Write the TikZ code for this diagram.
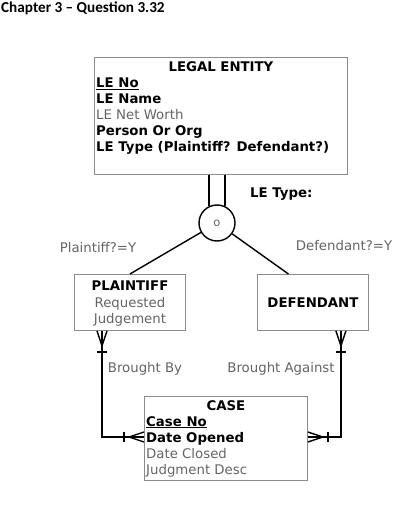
\documentclass[tikz,border=0pt]{standalone}
\usepackage{fontspec}
\setmainfont{DejaVu Sans}
\newfontfamily\titlefont{Carlito}
\usetikzlibrary{positioning}
\definecolor{boxgray}{HTML}{8C8C8C}
\definecolor{textgray}{HTML}{646464}

\begin{document}
\begin{tikzpicture}[x=1pt, y=-1pt,
    font=\fontsize{13.3}{16}\selectfont,
    entity/.style={draw=boxgray, line width=0.9pt, anchor=north west, inner sep=0pt},
    head/.style={font=\fontsize{13.3}{16}\selectfont\bfseries, inner sep=0pt},
    attrs/.style={align=left, inner sep=0pt, anchor=north west},
    lbl/.style={text=textgray, inner sep=0pt},
    rel/.style={line width=1.4pt},
    bar/.style={line width=2pt}
]
\useasboundingbox (0,0) rectangle (403,513);
\node[anchor=base west, inner sep=0pt, font=\titlefont\fontsize{15.2}{17}\selectfont\bfseries] (title) at (1,13) {Chapter 3 – Question 3.32};

% supertype
\node[entity, minimum width=253pt, minimum height=117pt] (le) at (94,57) {};
\node[head, below=4pt of le.north] (le-head) {LEGAL ENTITY};
\node[attrs] (le-attrs) at (96,77.5) {\textbf{\underline{LE No}}\\ \textbf{LE Name}\\ \textcolor{textgray}{LE Net Worth}\\ \textbf{Person Or Org}\\ \textbf{LE Type (Plaintiff? Defendant?)}};

% subtype circle
\node[draw, circle, line width=1.4pt, minimum size=36pt, inner sep=0pt, font=\fontsize{11.5}{11.5}\selectfont, text=textgray] (sub) at (217,223) {o};
\node[head, anchor=west] (sub-lbl) at (250,194) {LE Type:};
\draw[rel] (sub.115 |- le.south) -- (sub.115);
\draw[rel] (sub.65 |- le.south) -- (sub.65);

% subtypes
\node[entity, minimum width=111pt, minimum height=56pt] (pl) at (74,274) {};
\node[head, below=7pt of pl.north] (pl-head) {PLAINTIFF};
\node[lbl, align=center, below=6pt of pl-head] (pl-attrs) {Requested\\Judgement};
\node[entity, minimum width=111pt, minimum height=56pt] (df) at (257,274) {};
\node[head] (df-head) at (df.center) {DEFENDANT};
\node[lbl] (pl-cond) at (98,248) {Plaintiff?=Y};
\node[lbl] (df-cond) at (344,246) {Defendant?=Y};
\draw[rel] (sub) -- (pl.north);
\draw[rel] (sub) -- ([xshift=-24.5pt]df.north);

% case
\node[entity, minimum width=163pt, minimum height=84pt] (cs) at (144,396) {};
\node[head, below=4.5pt of cs.north] (cs-head) {CASE};
\node[attrs] (cs-attrs) at (146,416) {\textbf{\underline{Case No}}\\ \textbf{Date Opened}\\ \textcolor{textgray}{Date Closed}\\ \textcolor{textgray}{Judgment Desc}};

% brought by
\coordinate (by-top) at ([xshift=28pt]pl.south west);
\coordinate (by-end) at (cs.west |- 0,437);
\draw[rel] (by-top) |- (by-end);
\draw[rel] ([xshift=-5pt]by-top) -- ([yshift=-15pt]by-top) -- ([xshift=5pt]by-top);
\draw[bar] ([shift={(-5pt,-21pt)}]by-top) -- ([shift={(5pt,-21pt)}]by-top);
\draw[rel] ([yshift=5pt]by-end) -- ([xshift=-15pt]by-end) -- ([yshift=-5pt]by-end);
\draw[bar] ([shift={(-20pt,5pt)}]by-end) -- ([shift={(-20pt,-5pt)}]by-end);
\node[lbl] (by-lbl) at (145,369) {Brought By};

% brought against
\coordinate (ag-top) at ([xshift=-28pt]df.south east);
\coordinate (ag-end) at (cs.east |- 0,437);
\draw[rel] (ag-top) |- (ag-end);
\draw[rel] ([xshift=-5pt]ag-top) -- ([yshift=-15pt]ag-top) -- ([xshift=5pt]ag-top);
\draw[bar] ([shift={(-5pt,-21pt)}]ag-top) -- ([shift={(5pt,-21pt)}]ag-top);
\draw[rel] ([yshift=5pt]ag-end) -- ([xshift=15pt]ag-end) -- ([yshift=-5pt]ag-end);
\draw[bar] ([shift={(20pt,5pt)}]ag-end) -- ([shift={(20pt,-5pt)}]ag-end);
\node[lbl] (ag-lbl) at (281,369) {Brought Against};
\end{tikzpicture}
\end{document}
